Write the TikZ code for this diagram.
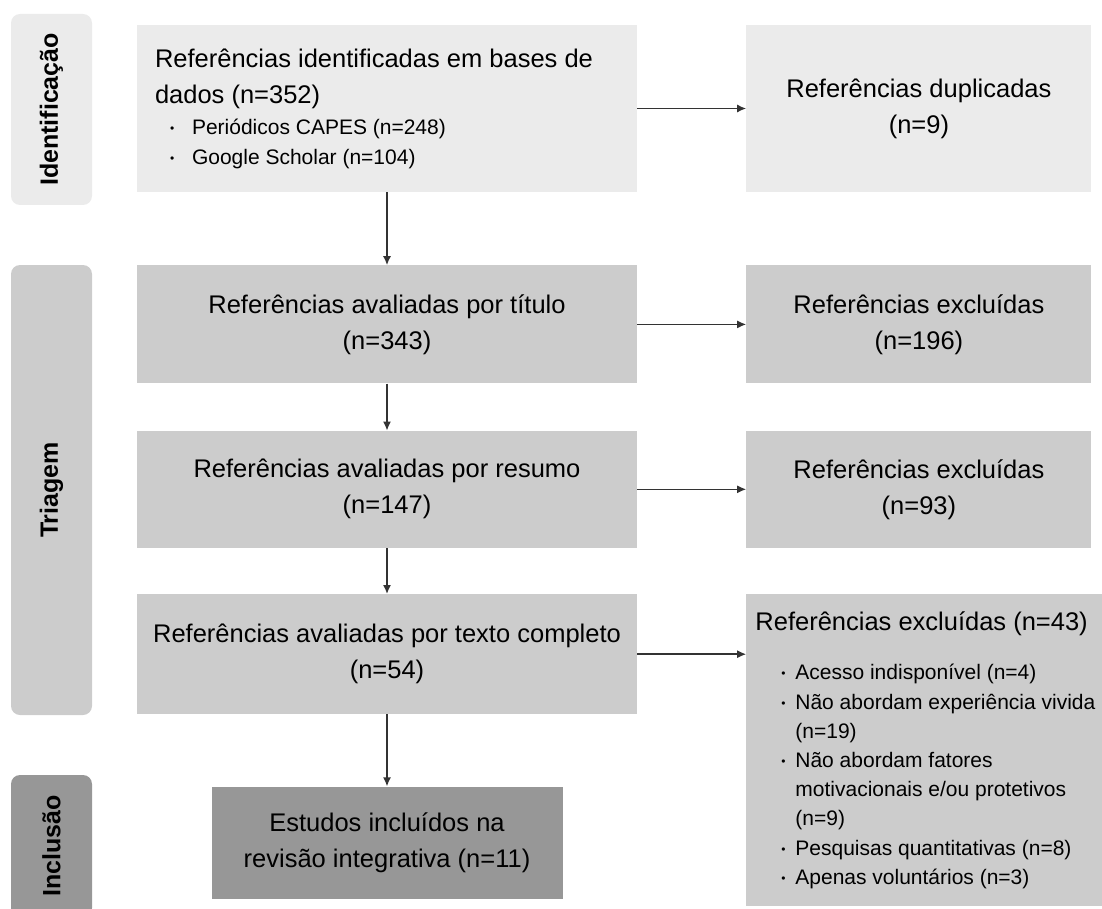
\documentclass[tikz,border=0pt]{standalone}
\usepackage{fontspec}
\setmainfont{Liberation Sans}
\usetikzlibrary{positioning,arrows.meta}

\definecolor{fundoA}{HTML}{EBEBEB}
\definecolor{fundoB}{HTML}{CCCCCC}
\definecolor{fundoC}{HTML}{979797}
\definecolor{linha}{HTML}{333333}

\setlength{\parindent}{0pt}
\newcommand{\grande}{\fontsize{25.5}{36}\selectfont}
\newcommand{\pequeno}{\fontsize{21}{29.2}\selectfont}
\newcommand{\bul}[3]{\hspace*{#1}\makebox[#2][l]{\raisebox{2pt}{\fontsize{12}{12}\selectfont\textbullet}}#3}

\begin{document}
\begin{tikzpicture}[x=1pt,y=-1pt,>={Latex[length=9pt,width=8pt]},
        seta/.style={->,draw=linha,line width=1.5pt},
        caixa/.style={fill=#1,draw=none,inner sep=0pt,align=flush center,font=\grande,
                      execute at begin node={\spaceskip=0pt\xspaceskip=0pt}},
        fase/.style={fill=#1,rounded corners=9pt,rotate=90,inner sep=0pt,
                     minimum height=81pt,font=\bfseries\fontsize{25}{30}\selectfont}]

        \useasboundingbox (0,0) rectangle (1102,909);

        % fases
        \node[fase=fundoA,minimum width=191pt] (fIdent) at (51.5,109.5) {Identificação};
        \node[fase=fundoB,minimum width=450pt] (fTriagem) at (51.5,490) {Triagem};
        \begin{scope}
        \clip (0,0) rectangle (1102,909);
        \node[fase=fundoC,minimum width=142pt] (fInclusao) at (51.5,846) {Inclusão};
        \end{scope}

        % coluna principal
        \node[caixa=fundoA,text width=464pt,inner xsep=18pt,minimum height=167pt,align=flush left]
                (ident) at (387,108.5)
                {{\grande Referências identificadas em bases de\\dados (n=352)\par}
                 \vspace{2.5pt}
                 {\pequeno \bul{15pt}{22pt}{Periódicos CAPES (n=248)}\\
                  \bul{15pt}{22pt}{Google Scholar (n=104)}\par}};
        \node[caixa=fundoB,text width=500pt,minimum height=118pt] (titulo) [below=73pt of ident]
                {Referências avaliadas por título\\(n=343)};
        \node[caixa=fundoB,text width=500pt,minimum height=117pt] (resumo) [below=47pt of titulo]
                {Referências avaliadas por resumo\\(n=147)};
        \node[caixa=fundoB,text width=500pt,minimum height=120pt] (texto) [below=46pt of resumo]
                {Referências avaliadas por texto completo\\(n=54)};
        \node[caixa=fundoC,text width=351pt,minimum height=112pt] (incl) [below=72pt of texto]
                {Estudos incluídos na\\revisão integrativa (n=11)};

        % exclusoes
        \node[caixa=fundoA,text width=345pt,minimum height=167pt] (dupl) [right=109pt of ident]
                {Referências duplicadas\\(n=9)};
        \node[caixa=fundoB,text width=345pt,minimum height=118pt] (exclTit) [right=109pt of titulo]
                {Referências excluídas\\(n=196)};
        \node[caixa=fundoB,text width=345pt,minimum height=117pt] (exclRes) [right=109pt of resumo]
                {Referências excluídas\\(n=93)};
        \node[caixa=fundoB,text width=356pt,minimum height=312pt,align=flush left]
                (exclTxt) [below right=0pt and 109pt of texto.north east]
                {\leftskip=9pt
                 {\grande Referências excluídas (n=43)\par}
                 \vspace{20pt}
                 {\pequeno \bul{26pt}{14pt}{Acesso indisponível (n=4)}\\
                  \bul{26pt}{14pt}{Não abordam experiência vivida}\\
                  \hspace*{40pt}(n=19)\\
                  \bul{26pt}{14pt}{Não abordam fatores}\\
                  \hspace*{40pt}motivacionais e/ou protetivos\\
                  \hspace*{40pt}(n=9)\\
                  \bul{26pt}{14pt}{Pesquisas quantitativas (n=8)}\\
                  \bul{26pt}{14pt}{Apenas voluntários (n=3)}\par}
                 \vspace{8pt}};

        \draw[seta] (ident) -- (dupl);
        \draw[seta] (ident) -- (titulo);
        \draw[seta] (titulo) -- (exclTit);
        \draw[seta] (titulo) -- (resumo);
        \draw[seta] (resumo) -- (exclRes);
        \draw[seta] (resumo) -- (texto);
        \draw[seta] (texto) -- (texto -| exclTxt.west);
        \draw[seta] (texto) -- (incl);

\end{tikzpicture}
\end{document}
